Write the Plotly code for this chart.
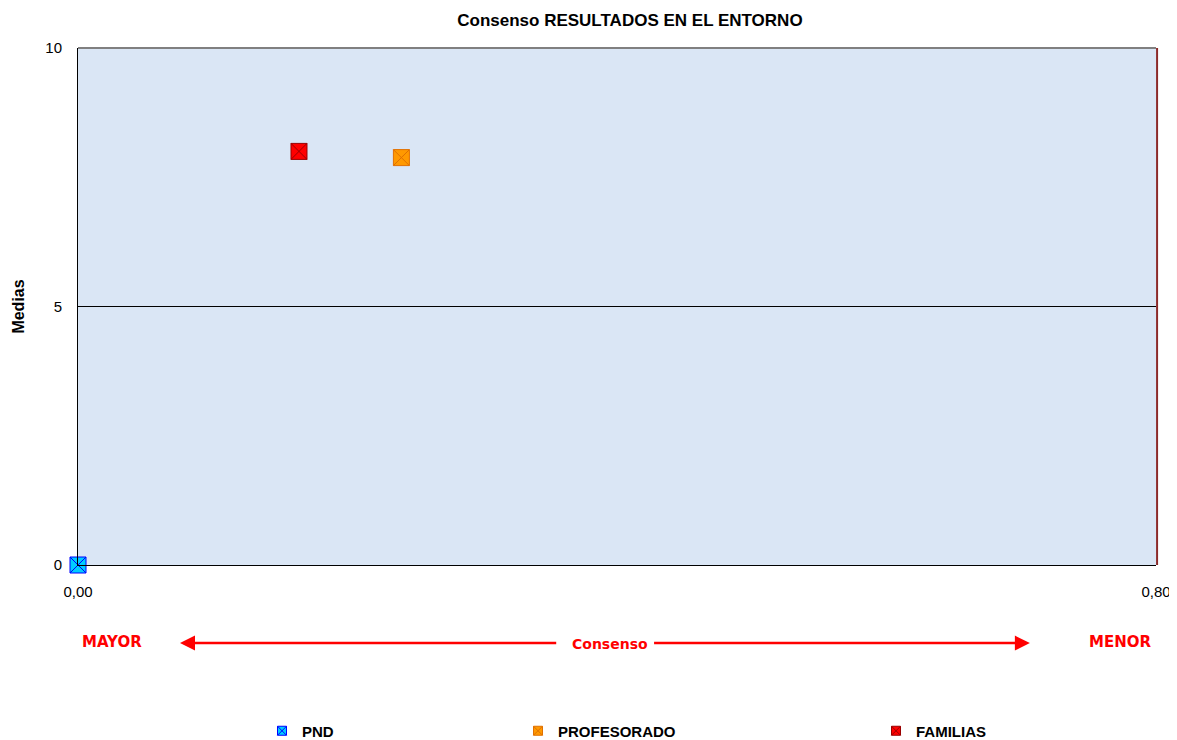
import plotly.graph_objects as go

# Data
series_names = ["PND", "PROFESORADO", "FAMILIAS"]
consenso = [0.0, 0.24, 0.164]
medias = [0.0, 7.88, 8.0]
fill_colors = ["#00CCFF", "#FF9900", "#FF0000"]
line_colors = ["#0000FF", "#E07000", "#990000"]
x_tickvals = [0.0, 0.8]
x_ticktext = ["0,00", "0,80"]
y_tickvals = [0, 5, 10]

fig = go.Figure()
legend_ids = ["legend", "legend2", "legend3"]
for i, name in enumerate(series_names):
    fig.add_trace(go.Scatter(
        x=[consenso[i]], y=[medias[i]], mode="markers", name=name, showlegend=False,
        marker=dict(symbol="square-x", size=16, color=fill_colors[i],
                    line=dict(color=line_colors[i], width=1)),
        cliponaxis=False,
    ))
    # legend-only entry with small marker
    fig.add_trace(go.Scatter(
        x=[None], y=[None], mode="markers", name=name, legend=legend_ids[i],
        marker=dict(symbol="square-x", size=9, color=fill_colors[i],
                    line=dict(color=line_colors[i], width=1)),
    ))

W, H = 1169, 732
leg_common = dict(orientation="h", yanchor="middle", y=9 / H, xanchor="left",
                  xref="container", yref="container",
                  font=dict(family="Arial", size=15, color="black", weight="bold"),
                  bgcolor="rgba(0,0,0,0)", itemwidth=30)
fig.update_layout(
    width=W, height=H,
    margin=dict(l=70, r=21, t=40, b=175),
    paper_bgcolor="white", plot_bgcolor="#DAE6F5",
    title=dict(text="<b>Consenso RESULTADOS EN EL ENTORNO</b>", x=0.512, xref="paper",
               xanchor="center", y=1 - 12 / H, yanchor="middle",
               font=dict(family="Arial", size=17, color="black")),
    font=dict(family="Arial", size=14, color="black"),
    legend=dict(**leg_common, x=254 / W),
    legend2=dict(**leg_common, x=510 / W),
    legend3=dict(**leg_common, x=868 / W),
    xaxis=dict(range=[0, 0.8], tickvals=x_tickvals, ticktext=x_ticktext, showgrid=False,
               zeroline=False, showline=True, linecolor="black", linewidth=1, automargin=False,
               ticks="", ticklabelstandoff=13, ticklabeloverflow="allow",
               tickfont=dict(family="Arial", size=15)),
    yaxis=dict(range=[0, 10], tickvals=y_tickvals, showgrid=True, gridcolor="black", gridwidth=1,
               zeroline=False, showline=True, linecolor="black", linewidth=1, automargin=False,
               ticks="", ticklabelstandoff=12, tickfont=dict(family="Arial", size=15),
               title=dict(text="<b>Medias</b>", font=dict(family="Arial", size=16), standoff=16)),
    showlegend=True,
)

# top border and right border
fig.add_shape(type="line", xref="paper", yref="paper", x0=0, x1=1, y0=1, y1=1,
              line=dict(color="#808080", width=2))
fig.add_shape(type="line", xref="paper", yref="paper", x0=1.001, x1=1.001, y0=0, y1=1,
              line=dict(color="#8B2A2A", width=2))

red = "#FF0000"
afont = dict(family="DejaVu Sans", size=14, color=red)
# arrows
for tip, tail in [(0.0946, 0.445), (0.883, 0.533)]:
    fig.add_annotation(xref="x domain", yref="y domain", x=tip, y=-0.151, ax=tail, ay=-0.151,
                       axref="x domain", ayref="y domain", showarrow=True, arrowhead=2,
                       arrowsize=1.2, arrowwidth=2.5, arrowcolor=red, text="")
fig.add_annotation(xref="paper", yref="paper", x=0.4935, y=-0.152, xanchor="center",
                   yanchor="middle", showarrow=False, text="<b>Consenso</b>", font=afont,
                   bgcolor="white")
fig.add_annotation(xref="paper", yref="paper", x=0.0315, y=-0.149, xanchor="center",
                   yanchor="middle", showarrow=False, text="<b>MAYOR</b>",
                   font=dict(afont, size=15))
fig.add_annotation(xref="paper", yref="paper", x=0.9662, y=-0.149, xanchor="center",
                   yanchor="middle", showarrow=False, text="<b>MENOR</b>",
                   font=dict(afont, size=15))

fig.write_html("out.html")
